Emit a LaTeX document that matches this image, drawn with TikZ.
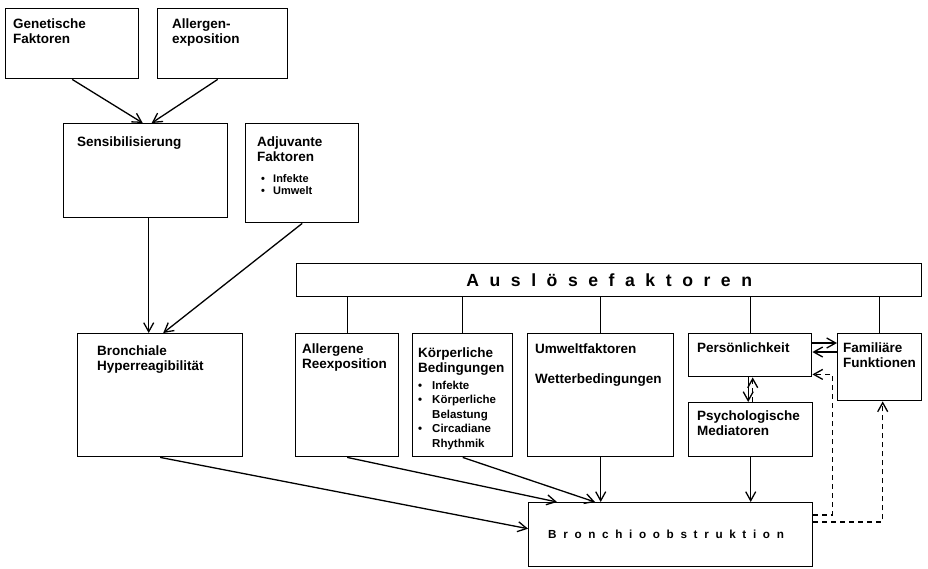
\documentclass[tikz,border=0pt]{standalone}
\usepackage{fontspec}
\setmainfont{Liberation Sans}
\newfontfamily\widefont[LetterSpace=60]{Liberation Sans}
\newfontfamily\wideobst[LetterSpace=57]{Liberation Sans}
\usetikzlibrary{arrows.meta}
\newcommand{\bul}[1][14pt]{\makebox[#1][l]{\textbullet}}
\newcommand{\ind}{\makebox[14pt]{}}

\begin{document}
\begin{tikzpicture}[x=1pt, y=-1pt,
    box/.style={draw, rectangle, anchor=north west, inner sep=0pt, line width=1.4pt},
    txt/.style={anchor=base west, align=left, inner sep=0pt, font=\bfseries\fontsize{13.5}{15}\selectfont},
    subtxt/.style={anchor=base west, align=left, inner sep=0pt, font=\bfseries\fontsize{11.5}{14.5}\selectfont},
    arr/.style={-{Straight Barb[length=9pt,width=10pt]}, line width=1.3pt},
    dsh/.style={arr, dash pattern=on 5pt off 4pt},
    ln/.style={line width=1.3pt}]
    \useasboundingbox (0,0) rectangle (928,568);

    % boxes
    \node[box, minimum width=133pt, minimum height=70pt] (gen) at (5,8) {};
    \node[box, minimum width=130pt, minimum height=70pt] (all) at (157,8) {};
    \node[box, minimum width=164pt, minimum height=94pt] (sens) at (63,123) {};
    \node[box, minimum width=113pt, minimum height=99pt] (adj) at (245,123) {};
    \node[box, minimum width=625pt, minimum height=33pt] (ausl) at (296,263) {};
    \node[box, minimum width=165pt, minimum height=123pt] (bron) at (77,333) {};
    \node[box, minimum width=103pt, minimum height=123pt] (reex) at (295,333) {};
    \node[box, minimum width=100pt, minimum height=123pt] (koerp) at (412,333) {};
    \node[box, minimum width=146pt, minimum height=123pt] (umw) at (527,333) {};
    \node[box, minimum width=123pt, minimum height=43pt] (pers) at (688,333) {};
    \node[box, minimum width=84pt, minimum height=67pt] (fam) at (837,333) {};
    \node[box, minimum width=124pt, minimum height=54pt] (psy) at (688,402) {};
    \node[box, minimum width=284pt, minimum height=64pt] (obst) at (528,502) {};

    % texts (placed at the baseline of their last line)
    \node[txt] (gentxt) at (13,43) {Genetische\\Faktoren};
    \node[txt] (alltxt) at (172,43) {Allergen-\\exposition};
    \node[txt] (senstxt) at (77,146) {Sensibilisierung};
    \node[txt] (adjtxt) at (257,161) {Adjuvante\\Faktoren};
    \node[subtxt, font=\bfseries\fontsize{11}{12}\selectfont] (adjlist) at (261,194) {\bul[12pt]Infekte\\\bul[12pt]Umwelt};
    \node[txt] (brontxt) at (97,370) {Bronchiale\\Hyperreagibilität};
    \node[txt] (reextxt) at (302,368) {Allergene\\Reexposition};
    \node[txt] (koerptxt) at (418,372) {Körperliche\\Bedingungen};
    \node[subtxt] (koerplist) at (418,447) {\bul Infekte\\\bul Körperliche\\\ind Belastung\\\bul Circadiane\\\ind Rhythmik};
    \node[txt] (umwtxt) at (535,383) {Umweltfaktoren\\[15pt]Wetterbedingungen};
    \node[txt] (perstxt) at (697,352) {Persönlichkeit};
    \node[txt] (famtxt) at (843,367) {Familiäre\\Funktionen};
    \node[txt] (psytxt) at (697,435) {Psychologische\\Mediatoren};
    \node[inner sep=0pt, font=\widefont\bfseries\fontsize{17.6}{20}\selectfont] (ausltxt) at (ausl.center) {Auslösefaktoren};
    \node[anchor=base west, inner sep=0pt, font=\wideobst\bfseries\fontsize{11.7}{14}\selectfont] (obsttxt) at (548,538) {Bronchioobstruktion};

    % connectors
    \draw[arr] (gen.south) -- ([xshift=-3pt]sens.north);
    \draw[arr] ([xshift=-5pt]all.south) -- ([xshift=6pt]sens.north);
    \draw[arr] ([xshift=3pt]sens.south) -- ([xshift=-11.5pt]bron.north);
    \draw[arr] (adj.south) -- ([xshift=3pt]bron.north);
    \foreach \n in {reex,koerp,umw,pers,fam}
        \draw[ln] (\n.north) -- (\n.north |- ausl.south);
    \draw[arr] (bron.south) -- ([yshift=6pt]obst.west);
    \draw[arr] (reex.south) -- ([xshift=29pt]obst.north west);
    \draw[arr] (koerp.south) -- ([xshift=67pt]obst.north west);
    \draw[arr] (umw.south) -- (umw.south |- obst.north);
    \draw[arr] (psy.south) -- (psy.south |- obst.north);
    \draw[arr] ([xshift=-2pt]pers.south) -- ([xshift=-2.5pt]psy.north);
    \draw[dsh] ([xshift=2pt]psy.north) -- ([xshift=2.5pt]pers.south);
    \draw[arr] ([yshift=-10pt]pers.north east) -- ([yshift=-10pt]fam.north west);
    \draw[arr] ([yshift=-19pt]fam.north west) -- ([yshift=-19pt]pers.north east);
    \draw[dsh] ([yshift=-13pt]obst.north east) -| ([shift={(20pt,3pt)}]pers.south east) -- ([yshift=3pt]pers.south east);
    \draw[dsh] ([yshift=-20pt]obst.north east) -| ([xshift=3pt]fam.south);
\end{tikzpicture}
\end{document}
